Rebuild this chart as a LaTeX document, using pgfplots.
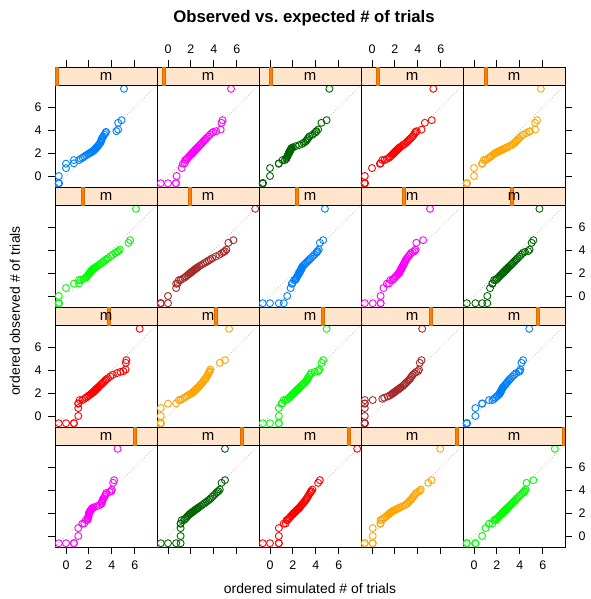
\documentclass[border=0pt]{standalone}
\usepackage{fontspec}
\setmainfont{Liberation Sans}
\usepackage{pgfplots}
\usepackage{pgfplotstable}
\pgfplotsset{compat=1.18}

\definecolor{c1}{HTML}{0080FF}
\definecolor{c2}{HTML}{FF00FF}
\definecolor{c3}{HTML}{006400}
\definecolor{c4}{HTML}{FF0000}
\definecolor{c5}{HTML}{FFA500}
\definecolor{c6}{HTML}{00FF00}
\definecolor{c7}{HTML}{A52A2A}
\definecolor{stripbg}{HTML}{FFE5CC}
\definecolor{shingle}{HTML}{FF7F00}

\newcommand\ticklabfont{\fontsize{12.5}{14}\selectfont}
\newcommand\stripfont{\fontsize{15}{17}\selectfont}

% one row per panel: ordered simulated values; first row: ordered observed values
\pgfplotstableread[header=false]{
y   -0.63 -0.63 -0.63 -0.63 0 0.69 1.07 1.10 1.39 1.39 1.5 1.6 1.7 1.8 1.9 1.95 2.0 2.05 2.1 2.15 2.2 2.25 2.3 2.35 2.4 2.45 2.5 2.6 2.7 2.8 2.9 3.0 3.1 3.2 3.3 3.45 3.6 3.75 3.85 3.91 4.05 4.64 4.87 7.61
p1  -0.63 -0.63 -0.63 -0.63 -0.63 0 0 0.69 0.69 1.13 1.30 1.45 1.60 1.75 1.91 1.99 2.08 2.16 2.24 2.32 2.40 2.45 2.49 2.54 2.59 2.63 2.68 2.76 2.84 2.92 3.00 3.04 3.08 3.11 3.15 3.25 3.34 3.44 3.50 4.4 4.55 4.55 4.85 5.06
p2  -0.63 0 0.69 0.69 0.75 1.2 1.3 1.45 1.5 1.55 1.65 1.74 1.84 1.93 2.03 2.08 2.12 2.17 2.22 2.27 2.31 2.36 2.41 2.46 2.50 2.55 2.60 2.70 2.79 2.89 2.98 3.08 3.17 3.27 3.36 3.51 3.65 3.83 3.95 4.2 4.6 4.67 4.76 5.5
p3  -0.63 -0.63 -0.63 -0.63 0 0 0.77 0.77 1.1 1.3 1.42 1.46 1.50 1.55 1.60 1.62 1.65 1.67 1.70 1.72 1.75 1.78 1.81 1.84 1.86 1.89 1.99 2.24 2.55 2.79 2.94 3.09 3.19 3.26 3.33 3.43 3.71 3.89 4.0 4.05 4.2 4.49 4.94 5.18
p4  -0.63 -0.63 -0.63 -0.63 -0.63 0 0.69 0.75 0.9 1.1 1.31 1.50 1.60 1.71 1.81 1.86 1.91 1.96 2.01 2.06 2.11 2.16 2.22 2.27 2.32 2.37 2.43 2.57 2.71 2.84 2.98 3.08 3.18 3.28 3.39 3.54 3.64 3.74 3.80 3.9 4.32 4.61 5.21 5.35
p5  -0.63 -0.63 -0.63 -0.63 0 0 0.69 0.75 0.85 1.0 1.17 1.32 1.46 1.59 1.73 1.79 1.86 1.94 2.05 2.15 2.26 2.36 2.47 2.57 2.67 2.78 2.88 3.09 3.29 3.44 3.54 3.65 3.75 3.85 3.95 4.1 4.26 4.57 4.8 4.88 5.33 5.33 5.5 5.83
p6  -0.63 -0.63 -0.63 -0.63 -0.63 0 0.69 1.13 1.13 1.3 1.54 1.74 1.82 1.90 1.98 2.02 2.06 2.10 2.14 2.18 2.22 2.26 2.30 2.36 2.43 2.50 2.57 2.71 2.85 2.99 3.12 3.26 3.39 3.52 3.66 3.87 4.08 4.3 4.45 4.55 4.7 5.45 5.6 6.1
p7  -0.63 -0.63 -0.63 0 0 0.71 0.71 0.85 0.95 1.1 1.27 1.43 1.57 1.69 1.81 1.87 1.94 2.0 2.06 2.12 2.18 2.25 2.32 2.39 2.45 2.52 2.59 2.73 2.89 3.06 3.23 3.39 3.56 3.72 3.88 4.17 4.48 4.73 4.85 4.97 5.1 5.27 5.71 7.61
p8  -0.63 0 0.77 1.2 1.5 1.8 1.9 1.96 2.1 2.2 2.26 2.32 2.37 2.43 2.49 2.52 2.54 2.57 2.60 2.62 2.65 2.67 2.70 2.73 2.75 2.78 2.80 2.85 2.95 3.05 3.15 3.26 3.36 3.46 3.56 3.72 3.87 4.03 4.1 4.15 4.26 4.35 4.64 4.79
p9  -0.63 0.06 0.75 0.75 0.75 1.0 1.3 1.49 1.6 1.79 1.89 1.98 2.07 2.17 2.26 2.31 2.35 2.39 2.42 2.44 2.47 2.49 2.52 2.55 2.57 2.60 2.62 2.67 2.73 2.78 2.83 2.88 2.93 2.99 3.06 3.18 3.29 3.40 3.55 3.72 3.8 3.87 4.46 5.06
p10 -0.63 0.12 0.71 1.16 1.16 1.4 1.61 1.61 1.75 1.9 2.01 2.11 2.21 2.31 2.41 2.46 2.51 2.56 2.61 2.66 2.71 2.76 2.81 2.86 2.91 2.96 3.01 3.11 3.21 3.31 3.41 3.51 3.61 3.71 3.81 3.96 4.11 4.26 4.45 4.73 4.85 5.03 5.18 5.71
p11 -0.63 0 0.69 0.69 1.07 1.07 1.07 1.07 1.2 1.43 1.60 1.74 1.88 2.01 2.15 2.21 2.28 2.34 2.39 2.44 2.50 2.55 2.60 2.65 2.70 2.75 2.81 2.91 3.01 3.11 3.22 3.32 3.42 3.52 3.66 3.87 4.08 4.47 4.75 5.0 5.2 5.22 5.27 6.43
p12 -0.63 -0.63 -0.63 -0.63 -0.63 -0.63 0 0.71 0.95 1.1 1.27 1.43 1.58 1.75 1.92 2.0 2.09 2.16 2.21 2.26 2.31 2.36 2.42 2.47 2.52 2.57 2.63 2.73 2.81 2.90 2.98 3.06 3.14 3.22 3.31 3.39 3.47 3.55 3.60 3.63 3.7 4.52 4.97 5.33
p13 -0.63 0 0.77 0.77 0.77 0.77 1.0 1.07 1.2 1.37 1.54 1.68 1.78 1.88 1.98 2.03 2.08 2.13 2.19 2.24 2.29 2.34 2.39 2.45 2.50 2.55 2.60 2.70 2.80 2.90 3.01 3.11 3.19 3.25 3.31 3.40 3.50 3.59 3.90 4.2 4.3 4.5 4.64 4.94
p14 -0.63 -0.63 -0.63 -0.63 -0.63 -0.63 -0.63 -0.63 -0.63 0.06 0.9 1.07 1.37 1.57 1.71 1.78 1.85 1.92 1.98 2.05 2.12 2.19 2.26 2.33 2.39 2.46 2.53 2.67 2.77 2.87 2.97 3.08 3.18 3.28 3.35 3.45 3.56 3.73 3.85 4.02 4.1 4.17 4.32 4.38
p15 -0.63 -0.63 -0.63 -0.63 0.12 0.12 0.71 0.71 1.31 1.61 1.74 1.86 1.98 2.10 2.21 2.24 2.26 2.29 2.31 2.34 2.37 2.39 2.42 2.44 2.47 2.49 2.53 2.62 2.70 2.78 2.86 2.94 3.03 3.11 3.21 3.36 3.52 3.67 3.90 3.99 4.05 4.14 4.28 4.82
p16 -0.63 0 0.69 0.69 1.07 1.07 1.43 1.6 1.73 1.88 1.90 1.93 1.95 1.97 1.99 2.0 2.01 2.03 2.07 2.10 2.14 2.17 2.21 2.24 2.28 2.31 2.42 2.68 2.94 3.09 3.12 3.15 3.18 3.22 3.28 3.38 3.45 3.50 3.80 3.96 4.0 4.11 4.2 4.5
p17 -0.63 0 0.71 1.1 1.1 1.1 1.1 1.1 1.2 1.4 1.50 1.59 1.68 1.78 1.88 1.94 2.01 2.08 2.14 2.21 2.28 2.35 2.41 2.48 2.55 2.62 2.69 2.83 2.97 3.11 3.24 3.38 3.51 3.64 3.74 3.90 4.05 4.21 4.30 4.4 4.52 4.67 4.97 4.97
p18 -0.63 0 0.77 0.77 0.77 0.77 1.2 1.37 1.45 1.52 1.62 1.71 1.80 1.89 1.98 2.03 2.08 2.14 2.19 2.24 2.29 2.34 2.39 2.45 2.50 2.55 2.59 2.67 2.75 2.84 2.92 3.00 3.08 3.16 3.22 3.31 3.40 3.49 3.55 3.6 3.7 4.2 4.35 7.61
p19 -0.63 -0.63 0.06 0.06 0.06 0.06 0.74 0.74 0.74 0.8 0.95 1.08 1.21 1.34 1.46 1.52 1.58 1.64 1.70 1.77 1.85 1.95 2.06 2.16 2.26 2.36 2.46 2.67 2.88 3.03 3.13 3.23 3.33 3.43 3.51 3.62 3.74 3.85 4.0 4.17 4.25 4.91 5.21 5.95
p20 -0.63 -0.63 0.12 0.12 0.71 1.01 1.31 1.61 1.75 1.9 1.98 2.08 2.18 2.28 2.38 2.43 2.48 2.53 2.58 2.63 2.68 2.73 2.78 2.83 2.88 2.93 2.98 3.08 3.18 3.28 3.38 3.48 3.58 3.68 3.78 3.93 4.08 4.24 4.38 4.4 4.5 4.58 5.18 7.05
}\qqraw
\pgfplotstabletranspose[colnames from=0]\qqdata\qqraw

\pgfplotsset{
  base/.style={width=102bp, scale only axis, xmin=-0.96, xmax=7.94,
    tick align=outside, major tick length=7bp, xtick=\empty, ytick=\empty,
    axis line style={line width=0.9bp},
    every tick/.style={black, line width=0.9bp},
    tick label style={font=\ticklabfont},
    xticklabel shift=3bp, yticklabel shift=3bp,
    /pgf/number format/assume math mode=true},
  panel/.style={base, height=102bp, anchor=north west, ymin=-0.96, ymax=7.94},
  strip/.style={base, height=18bp, anchor=south west, ymin=0, ymax=1,
    axis background/.style={fill=stripbg}},
  bot/.style={xtick={0,2,4,6}, xtick pos=left},
  top/.style={xtick={0,2,4,6}, xtick pos=right},
  lft/.style={ytick={0,2,4,6}, ytick pos=left},
  rgt/.style={ytick={0,2,4,6}, ytick pos=right},
  nox/.style={xticklabels={}},
  noy/.style={yticklabels={}},
  refline/.style={gray!45, line width=0.8bp, dash pattern=on 0.8bp off 2.2bp},
  pts/.style={only marks, mark=o, mark size=3.5bp, line width=0.9bp},
}

% #1 left, #2 top of panel (bp), #3 colour, #4 column, #5 panel opts, #6 strip opts, #7-#8 bar
\newcommand\panel[8]{%
  \begin{axis}[panel, at={(#1bp,-#2bp)}, #5]
    \addplot[refline] coordinates {(-0.96,-0.96) (7.94,7.94)};
    \addplot[pts, #3] table[x=#4, y=y] {\qqdata};
  \end{axis}
  \begin{axis}[strip, at={(#1bp,-#2bp)}, #6]
    \fill[shingle, draw=shingle!85!black, line width=0.4bp]
      (rel axis cs:#7,0) rectangle (rel axis cs:#8,1);
    \node[font=\stripfont] at (rel axis cs:0.5,0.5) {m};
  \end{axis}
}

\begin{document}
\begin{tikzpicture}
\path[use as bounding box] (0,0) rectangle (591bp,-599bp);

\panel{55}{85}{c1}{p1}{lft}{top,nox}{0}{0.0294}
\panel{157}{85}{c2}{p2}{}{top}{0.0511}{0.0805}
\panel{259}{85}{c3}{p3}{}{top,nox}{0.1022}{0.1316}
\panel{361}{85}{c4}{p4}{}{top}{0.1532}{0.1826}
\panel{463}{85}{c5}{p5}{rgt,noy}{top,nox}{0.2043}{0.2337}

\panel{55}{205}{c6}{p6}{lft,noy}{}{0.2554}{0.2848}
\panel{157}{205}{c7}{p7}{}{}{0.3065}{0.3359}
\panel{259}{205}{c1}{p8}{}{}{0.3576}{0.3870}
\panel{361}{205}{c2}{p9}{}{}{0.4086}{0.4380}
\panel{463}{205}{c3}{p10}{rgt}{}{0.4597}{0.4891}

\panel{55}{325}{c4}{p11}{lft}{}{0.5108}{0.5402}
\panel{157}{325}{c5}{p12}{}{}{0.5619}{0.5913}
\panel{259}{325}{c6}{p13}{}{}{0.6130}{0.6424}
\panel{361}{325}{c7}{p14}{}{}{0.6640}{0.6934}
\panel{463}{325}{c1}{p15}{rgt,noy}{}{0.7151}{0.7445}

\panel{55}{445}{c2}{p16}{lft,noy,bot}{}{0.7662}{0.7956}
\panel{157}{445}{c3}{p17}{bot,nox}{}{0.8173}{0.8467}
\panel{259}{445}{c4}{p18}{bot}{}{0.8684}{0.8978}
\panel{361}{445}{c5}{p19}{bot,nox}{}{0.9194}{0.9488}
\panel{463}{445}{c6}{p20}{rgt,bot}{}{0.9705}{1.0}

\node[font=\fontsize{16.8}{20}\selectfont\bfseries] at (304bp,-18bp) {Observed vs.\ expected \# of trials};
\node[font=\fontsize{14}{17}\selectfont] at (310bp,-589bp) {ordered simulated \# of trials};
\node[font=\fontsize{14}{17}\selectfont, rotate=90] at (15bp,-311bp) {ordered observed \# of trials};
\end{tikzpicture}
\end{document}
